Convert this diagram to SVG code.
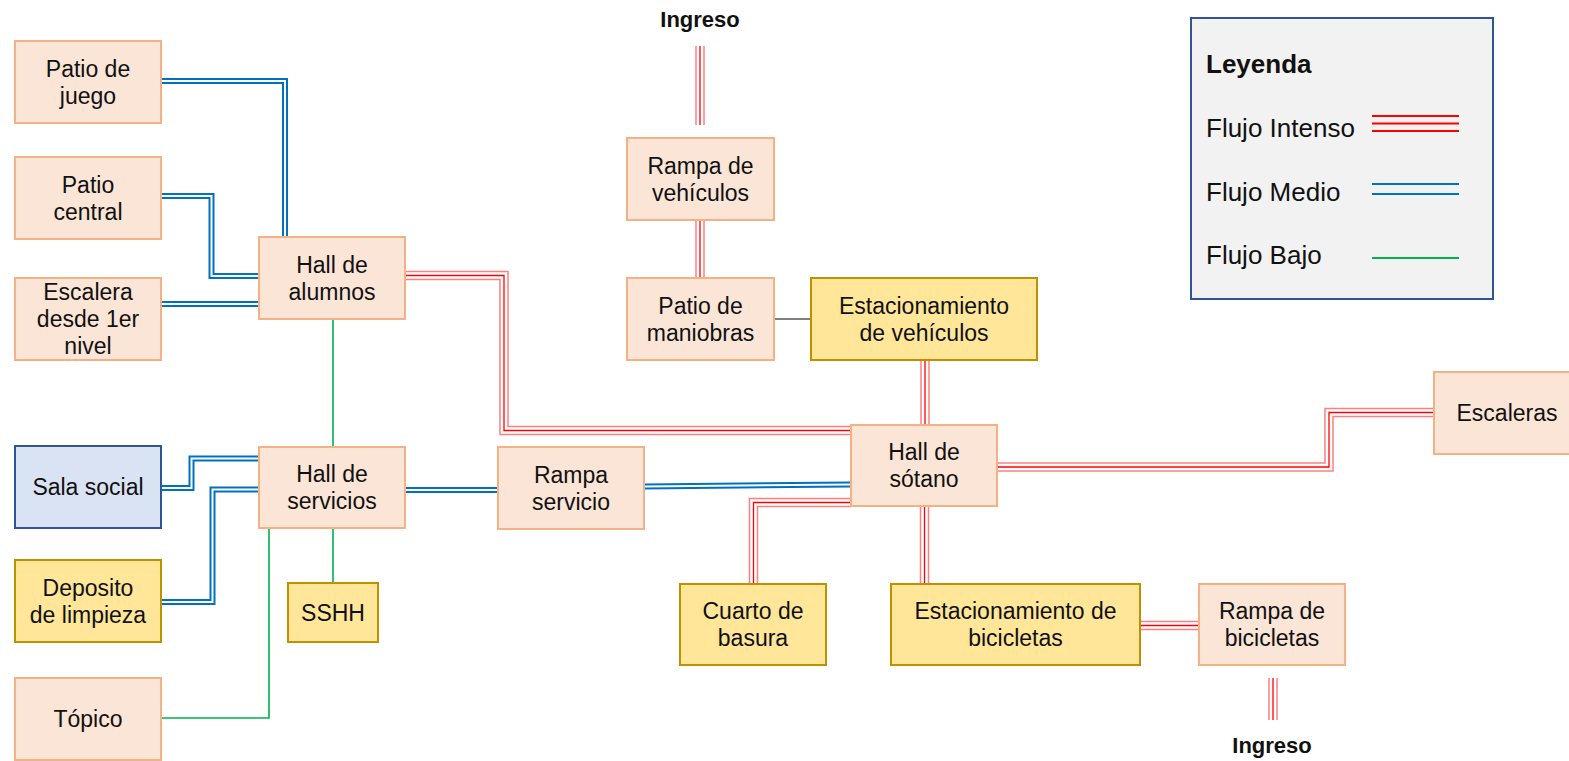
<svg xmlns="http://www.w3.org/2000/svg" width="1569" height="761" viewBox="0 0 1569 761">
<style>
text{font-family:"Liberation Sans",Arial,sans-serif;fill:#111;text-anchor:middle}
.t{font-size:23px}
.b{font-size:22px;font-weight:bold}
.lg{font-size:26px;text-anchor:start}
.lgb{font-size:26px;font-weight:bold;text-anchor:start}
.p{fill:#FBE5D6;stroke:#F4B183;stroke-width:2}
.y{fill:#FFE699;stroke:#BF9000;stroke-width:2}
.s{fill:#DAE3F3;stroke:#2F5597;stroke-width:2}
path{fill:none}
.bo{stroke:#0070C0;stroke-width:6}
.bi{stroke:#fff;stroke-width:2}
.ro{stroke:#FF7F7F;stroke-width:9.5}
.ri{stroke:#fff;stroke-width:6.5}
.rc{stroke:#FF0000;stroke-width:1.3}
.g{stroke:#00B050;stroke-width:1.6}
.k{stroke:#000;stroke-width:1}
</style>
<defs>
<path id="r1" d="M700,46V125"/>
<path id="r2" d="M700,220V278"/>
<path id="r3" d="M405,275.5H504V430.5H851"/>
<path id="r4" d="M925,360V425"/>
<path id="r5" d="M997,467H1329V412.5H1434"/>
<path id="r6" d="M851,502.5H753.5V584"/>
<path id="r7" d="M924.5,506V584"/>
<path id="r8" d="M1140,625.5H1199"/>
<path id="r9" d="M1273,678V720"/>
<path id="b1" d="M161,81H285V237"/>
<path id="b2" d="M161,196H211.5V276H259"/>
<path id="b3" d="M161,304H259"/>
<path id="b4" d="M161,488H191.5V458.5H259"/>
<path id="b5" d="M161,602H212.5V489.5H259"/>
<path id="b6" d="M405,490H498"/>
<path id="b7" d="M644,486.5L851,484.5"/>
</defs>
<g id="connectors">
<g class="bo"><use href="#b1"/><use href="#b2"/><use href="#b3"/><use href="#b4"/><use href="#b5"/><use href="#b6"/><use href="#b7"/></g>
<g class="bi"><use href="#b1"/><use href="#b2"/><use href="#b3"/><use href="#b4"/><use href="#b5"/><use href="#b6"/><use href="#b7"/></g>
<g class="ro"><use href="#r1"/><use href="#r2"/><use href="#r3"/><use href="#r4"/><use href="#r5"/><use href="#r6"/><use href="#r7"/><use href="#r8"/><use href="#r9"/></g>
<g class="ri"><use href="#r1"/><use href="#r2"/><use href="#r3"/><use href="#r4"/><use href="#r5"/><use href="#r6"/><use href="#r7"/><use href="#r8"/><use href="#r9"/></g>
<g class="rc"><use href="#r1"/><use href="#r2"/><use href="#r3"/><use href="#r4"/><use href="#r5"/><use href="#r6"/><use href="#r7"/><use href="#r8"/><use href="#r9"/></g>
<path class="g" d="M333,319V447"/>
<path class="g" d="M333,528V583"/>
<path class="g" d="M161,718H269V528"/>
<path class="k" d="M774,319H811"/>
</g>
<g id="patio-juego"><rect class="p" x="15" y="41" width="146" height="82"/><text class="t" x="88" y="76.5">Patio de</text><text class="t" x="88" y="103.5">juego</text></g>
<g id="patio-central"><rect class="p" x="15" y="157" width="146" height="82"/><text class="t" x="88" y="192.5">Patio</text><text class="t" x="88" y="219.5">central</text></g>
<g id="escalera"><rect class="p" x="15" y="278" width="146" height="82"/><text class="t" x="88" y="300">Escalera</text><text class="t" x="88" y="327">desde 1er</text><text class="t" x="88" y="354">nivel</text></g>
<g id="hall-alumnos"><rect class="p" x="259" y="237" width="146" height="82"/><text class="t" x="332" y="272.5">Hall de</text><text class="t" x="332" y="299.5">alumnos</text></g>
<g id="sala-social"><rect class="s" x="15" y="446" width="146" height="82"/><text class="t" x="88" y="495">Sala social</text></g>
<g id="hall-servicios"><rect class="p" x="259" y="447" width="146" height="81"/><text class="t" x="332" y="482">Hall de</text><text class="t" x="332" y="509">servicios</text></g>
<g id="deposito"><rect class="y" x="15" y="560" width="146" height="82"/><text class="t" x="88" y="595.5">Deposito</text><text class="t" x="88" y="622.5">de limpieza</text></g>
<g id="sshh"><rect class="y" x="288" y="583" width="90" height="59"/><text class="t" x="333" y="620.5">SSHH</text></g>
<g id="topico"><rect class="p" x="15" y="678" width="146" height="82"/><text class="t" x="88" y="727">Tópico</text></g>
<g id="rampa-servicio"><rect class="p" x="498" y="447" width="146" height="82"/><text class="t" x="571" y="482.5">Rampa</text><text class="t" x="571" y="509.5">servicio</text></g>
<g id="rampa-vehiculos"><rect class="p" x="627" y="138" width="147" height="82"/><text class="t" x="700.5" y="173.5">Rampa de</text><text class="t" x="700.5" y="200.5">vehículos</text></g>
<g id="patio-maniobras"><rect class="p" x="627" y="278" width="147" height="82"/><text class="t" x="700.5" y="313.5">Patio de</text><text class="t" x="700.5" y="340.5">maniobras</text></g>
<g id="estac-vehiculos"><rect class="y" x="811" y="278" width="226" height="82"/><text class="t" x="924" y="313.5">Estacionamiento</text><text class="t" x="924" y="340.5">de vehículos</text></g>
<g id="hall-sotano"><rect class="p" x="851" y="425" width="146" height="81"/><text class="t" x="924" y="460">Hall de</text><text class="t" x="924" y="487">sótano</text></g>
<g id="escaleras"><rect class="p" x="1434" y="372" width="146" height="82"/><text class="t" x="1507" y="421">Escaleras</text></g>
<g id="cuarto-basura"><rect class="y" x="680" y="584" width="146" height="81"/><text class="t" x="753" y="619">Cuarto de</text><text class="t" x="753" y="646">basura</text></g>
<g id="estac-bicicletas"><rect class="y" x="891" y="584" width="249" height="81"/><text class="t" x="1015.5" y="619">Estacionamiento de</text><text class="t" x="1015.5" y="646">bicicletas</text></g>
<g id="rampa-bicicletas"><rect class="p" x="1199" y="584" width="146" height="81"/><text class="t" x="1272" y="619">Rampa de</text><text class="t" x="1272" y="646">bicicletas</text></g>
<g id="ingreso-top"><text class="b" x="700" y="27">Ingreso</text></g>
<g id="ingreso-bottom"><text class="b" x="1272" y="753">Ingreso</text></g>
<g id="legend">
<rect x="1191" y="18" width="302" height="281" fill="#F2F2F2" stroke="#2F5597" stroke-width="2"/>
<text class="lgb" x="1206" y="73">Leyenda</text>
<text class="lg" x="1206" y="137">Flujo Intenso</text>
<text class="lg" x="1206" y="201">Flujo Medio</text>
<text class="lg" x="1206" y="264">Flujo Bajo</text>
<path d="M1372,116H1459M1372,123.5H1459M1372,131H1459" stroke="#FF0000" stroke-width="2"/>
<path d="M1372,184H1459M1372,194H1459" stroke="#0070C0" stroke-width="2"/>
<path d="M1372,258H1459" stroke="#00B050" stroke-width="2"/>
</g>
</svg>
